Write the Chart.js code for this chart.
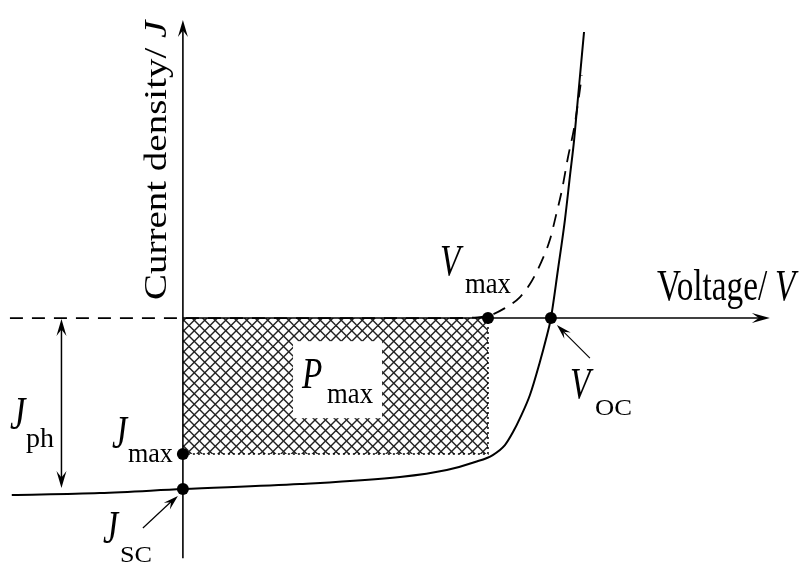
<!DOCTYPE html>
<html>
<head>
<meta charset="utf-8">
<script src="https://cdn.jsdelivr.net/npm/chart.js@4/dist/chart.umd.min.js"></script>
<style>
  html, body { margin: 0; padding: 0; background: #ffffff; }
  #wrap { width: 803px; height: 566px; }
</style>
</head>
<body>
<div id="wrap"><canvas id="c" width="803" height="566"></canvas></div>
<script>
// Illuminated J–V characteristic (voltage V, current density J, normalised so Voc = 1, Jsc = -1)
const illumV = [-0.465, -0.226, 0, 0.318, 0.590, 0.717, 0.794, 0.842, 0.875, 0.897, 0.916, 0.943, 0.970, 0.986, 1.000, 1.019, 1.038, 1.052, 1.063, 1.073, 1.090];
const illumJ = [-1.035, -1.023, -1.000, -0.971, -0.930, -0.889, -0.842, -0.801, -0.743, -0.667, -0.585, -0.450, -0.257, -0.129, 0, 0.281, 0.573, 0.836, 1.041, 1.275, 1.673];

// Dark J–V characteristic (dashed)
const darkV = [-0.470, 0, 0.739, 0.793, 0.829, 0.875, 0.916, 0.943, 0.970, 0.997, 1.014, 1.030, 1.046, 1.063, 1.076, 1.084];
const darkJ = [0, 0, 0, 0.003, 0.012, 0.058, 0.123, 0.199, 0.310, 0.456, 0.602, 0.749, 0.936, 1.111, 1.292, 1.421];

// Characteristic points
const Voc = 1.0;
const Jsc = -1.0;
const Vmax = 0.829;
const Jmax = -0.795;
const Jph = -Jsc;

// Plot ranges (no tick labels are drawn in this schematic)
const xRange = [-0.497, 1.685];
const yRange = [-1.450, 1.860];
const axisEnds = { vTip: 1.595, jTip: 1.743, jBottom: -1.404 };

const toPts = (xs, ys) => xs.map((x, i) => ({ x: x, y: ys[i] }));

// cross-hatch fill for the maximum-power rectangle
function hatchPattern() {
  const s = 10.5;
  const t = document.createElement('canvas');
  t.width = Math.round(s * 2); t.height = Math.round(s * 2);
  const g = t.getContext('2d');
  const S = t.width;
  g.strokeStyle = '#222';
  g.lineWidth = 1.4;
  for (let k = -S; k <= S; k += S / 2) {
    g.beginPath(); g.moveTo(k, 0); g.lineTo(k + S, S); g.stroke();
    g.beginPath(); g.moveTo(k + S, 0); g.lineTo(k, S); g.stroke();
  }
  return document.getElementById('c').getContext('2d').createPattern(t, 'repeat');
}

function arrowHead(ctx, x1, y1, x2, y2, len, half) {
  const a = Math.atan2(y2 - y1, x2 - x1);
  const c = Math.cos(a), s = Math.sin(a);
  const bx = x2 - c * len, by = y2 - s * len;
  const nx = x2 - c * len * 0.62, ny = y2 - s * len * 0.62;
  ctx.beginPath();
  ctx.moveTo(x2, y2);
  ctx.lineTo(bx - s * half, by + c * half);
  ctx.lineTo(nx, ny);
  ctx.lineTo(bx + s * half, by - c * half);
  ctx.closePath();
  ctx.fill();
}

function line(ctx, x1, y1, x2, y2, w) {
  ctx.lineWidth = w;
  ctx.beginPath(); ctx.moveTo(x1, y1); ctx.lineTo(x2, y2); ctx.stroke();
}

// serif text, horizontally condensed (fixed ratio or fitted to a width)
function txt(ctx, s, x, y, size, italic, w) {
  ctx.save();
  ctx.font = (italic ? 'italic ' : '') + size + 'px "Liberation Serif"';
  const m = ctx.measureText(s).width;
  const sx = w ? w / m : 0.74;
  ctx.translate(x, y);
  ctx.scale(sx, 1);
  ctx.textBaseline = 'alphabetic';
  ctx.fillText(s, 0, 0);
  ctx.restore();
}

const decorations = {
  id: 'decorations',
  afterDatasetsDraw(chart) {
    const ctx = chart.ctx;
    const xs = chart.scales.x, ys = chart.scales.y;
    const px = v => xs.getPixelForValue(v);
    const py = j => ys.getPixelForValue(j);
    const x0 = px(0), y0 = py(0);

    ctx.save();
    ctx.strokeStyle = '#000';
    ctx.fillStyle = '#000';

    // axes
    line(ctx, x0, py(axisEnds.jBottom), x0, py(axisEnds.jTip) + 6, 1.6);
    arrowHead(ctx, x0, py(0), x0, py(axisEnds.jTip), 17, 5);
    line(ctx, x0, y0, px(axisEnds.vTip) - 6, y0, 1.6);
    arrowHead(ctx, x0, y0, px(axisEnds.vTip), y0, 18, 5);

    // Jph double arrow
    const ax = px(-0.33);
    line(ctx, ax, py(0) + 6, ax, py(-Jph) - 6, 1.5);
    arrowHead(ctx, ax, py(-Jph), ax, py(0) + 1, 17, 5);
    arrowHead(ctx, ax, py(0), ax, py(-Jph) - 1, 17, 5);

    // pointer to Jsc
    line(ctx, x0 - 40, py(Jsc) + 39, x0 - 10, py(Jsc) + 11, 1.2);
    arrowHead(ctx, x0 - 40, py(Jsc) + 39, x0 - 5, py(Jsc) + 7, 15, 4.5);
    // pointer to Voc
    line(ctx, px(Voc) + 39, y0 + 40, px(Voc) + 10, y0 + 11, 1.2);
    arrowHead(ctx, px(Voc) + 39, y0 + 40, px(Voc) + 6, y0 + 7, 15, 4.5);

    // Pmax label box
    const bx = px(Vmax * 0.361), by = py(Jmax * 0.17);
    ctx.fillStyle = '#fff';
    ctx.fillRect(bx, by, 89, 77);
    ctx.fillStyle = '#000';
    txt(ctx, 'P', bx + 9, by + 47, 45, true);
    txt(ctx, 'max', bx + 34, by + 62, 29, false, 46);

    // axis titles
    txt(ctx, 'Voltage/ ', px(axisEnds.vTip) - 113, y0 - 18, 45, false);
    txt(ctx, 'V', px(axisEnds.vTip) + 5, y0 - 18, 45, true);

    ctx.save();
    ctx.translate(x0 - 17, py(0) - 18);
    ctx.rotate(-Math.PI / 2);
    ctx.scale(1, 0.8);
    ctx.font = '39px "Liberation Serif"';
    ctx.fillText('Current density/ ', 0, 0);
    const w = ctx.measureText('Current density/ ').width;
    ctx.font = 'italic 39px "Liberation Serif"';
    ctx.fillText('J', w, 0);
    ctx.restore();

    // point labels
    txt(ctx, 'V', px(Vmax) - 48, y0 - 43, 45, true);
    txt(ctx, 'max', px(Vmax) - 23, y0 - 25, 29, false, 46);

    txt(ctx, 'V', px(Voc) + 19, y0 + 80, 45, true);
    txt(ctx, 'OC', px(Voc) + 44, y0 + 97, 23, false, 37);

    txt(ctx, 'J', 10, py(-0.5) + 25, 47, true);
    txt(ctx, 'ph', 26, py(-0.5) + 43, 28, false, 28);

    txt(ctx, 'J', x0 - 71, py(Jmax) - 6, 46, true);
    txt(ctx, 'max', x0 - 55, py(Jmax) + 8, 28, false, 45);

    txt(ctx, 'J', x0 - 80, py(Jsc) + 54, 46, true);
    txt(ctx, 'SC', x0 - 63, py(Jsc) + 73, 23, false, 32);

    ctx.restore();
  }
};

const ctx = document.getElementById('c').getContext('2d');
new Chart(ctx, {
  type: 'scatter',
  data: {
    datasets: [
      {
        label: 'points',
        data: [{ x: 0, y: Jsc }, { x: 0, y: Jmax }, { x: Vmax, y: 0 }, { x: Voc, y: 0 }],
        showLine: false,
        pointRadius: 6,
        pointBackgroundColor: '#000',
        pointBorderColor: '#000',
        pointBorderWidth: 0,
        order: 0
      },
      {
        label: 'illuminated',
        data: toPts(illumV, illumJ),
        showLine: true,
        pointRadius: 0,
        borderColor: '#000',
        borderWidth: 2,
        cubicInterpolationMode: 'monotone',
        order: 1
      },
      {
        label: 'dark',
        data: toPts(darkV, darkJ),
        showLine: true,
        pointRadius: 0,
        borderColor: '#000',
        borderWidth: 1.8,
        borderDash: [13, 9],
        cubicInterpolationMode: 'monotone',
        order: 2
      },
      {
        label: 'Pmax',
        data: [{ x: 0, y: Jmax }, { x: Vmax, y: Jmax }, { x: Vmax, y: 0 }],
        showLine: true,
        pointRadius: 0,
        borderColor: '#000',
        borderWidth: 1.5,
        borderDash: [2, 3],
        fill: { value: 0 },
        backgroundColor: hatchPattern(),
        tension: 0,
        order: 3
      }
    ]
  },
  options: {
    responsive: false,
    maintainAspectRatio: false,
    animation: false,
    layout: { padding: 0, autoPadding: false },
    events: [],
    plugins: { legend: { display: false }, tooltip: { enabled: false } },
    scales: {
      x: { type: 'linear', display: false, min: xRange[0], max: xRange[1] },
      y: { type: 'linear', display: false, min: yRange[0], max: yRange[1] }
    }
  },
  plugins: [decorations]
});
</script>
</body>
</html>
